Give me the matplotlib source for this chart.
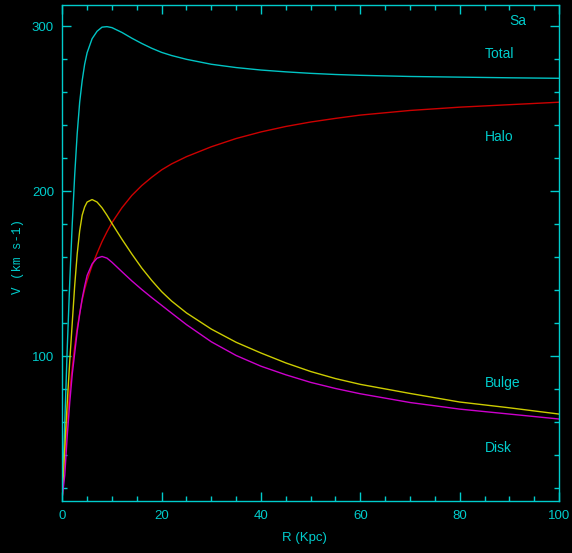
import matplotlib
matplotlib.use("Agg")
import matplotlib.pyplot as plt
from matplotlib.ticker import MultipleLocator

# Radius (Kpc)
R = [0, 0.5, 1, 1.5, 2, 2.5, 3, 3.5, 4, 4.5, 5, 6, 7, 8, 9, 10, 12, 14, 16, 18, 20, 22,
     25, 30, 35, 40, 45, 50, 55, 60, 70, 80, 90, 100]
# Velocities (km/s)
total = [15, 60, 105, 145, 180, 210, 235, 254, 267, 277, 284, 292.5, 297, 299.5, 299.8, 299.2,
         296.3, 292.8, 289.6, 286.7, 284.2, 282.3, 280, 277, 275, 273.5, 272.4, 271.5, 270.8,
         270.3, 269.6, 269.2, 268.8, 268.5]
halo = [15, 40, 62, 79, 93, 106, 117, 126, 134, 140.5, 146, 155, 162.5, 169.5, 175.5, 181,
        190, 197.5, 203.5, 208.5, 213, 216.6, 221, 227, 232, 236, 239.3, 242, 244.2, 246.2,
        249, 251, 252.5, 254]
bulge = [15, 45, 72, 97, 120, 143, 162, 176, 185.5, 190.5, 193.5, 195, 193.5, 190, 185.5, 180.5,
         171, 162, 153.5, 146, 139.2, 133.5, 126.3, 116.5, 108.5, 102, 96, 90.8, 86.5, 83,
         77.5, 72.3, 68.8, 65]
disk = [15, 28, 52, 72, 89, 102, 115, 125.5, 135, 142.5, 149, 156, 159.5, 160.5, 159.5, 157,
        151.3, 145.7, 140.5, 135.6, 130.9, 126.2, 119.2, 108.8, 100.5, 94, 88.8, 84.2, 80.5, 77.3,
        72, 68, 65, 62]

labels = ["Sa", "Total", "Halo", "Bulge", "Disk"]
label_x = [90, 85, 85, 85, 85]
label_y = [303.2, 283.2, 232.9, 83.8, 44.4]

CYAN = "#00cccc"
fig = plt.figure(figsize=(5.72, 5.53), dpi=100, facecolor="black")
ax = fig.add_axes([0.1089, 0.0946, 0.9773 - 0.1089, 0.9915 - 0.0946], facecolor="black")

ax.plot(R, total, color="#00c4c4", lw=1.0)
ax.plot(R, halo, color="#cc0000", lw=1.0)
ax.plot(R, bulge, color="#cccc00", lw=1.0)
ax.plot(R, disk, color="#cc00cc", lw=1.0)

ax.set_xlim(0, 100)
ax.set_ylim(12.5, 313.1)

for s in ax.spines.values():
    s.set_color(CYAN)
    s.set_linewidth(1.0)

ax.xaxis.set_major_locator(MultipleLocator(20))
ax.xaxis.set_minor_locator(MultipleLocator(5))
ax.yaxis.set_major_locator(MultipleLocator(100))
ax.yaxis.set_minor_locator(MultipleLocator(20))
ax.tick_params(which="both", direction="in", top=True, right=True, colors=CYAN, width=1.0)
ax.tick_params(which="major", length=6.5, labelsize=9.5)
ax.tick_params(which="minor", length=3.6)
ax.tick_params(axis="x", which="major", pad=7)
ax.tick_params(axis="y", which="major", pad=6)
for lab in ax.get_xticklabels() + ax.get_yticklabels():
    lab.set_fontfamily("Liberation Sans")

for t, x, y in zip(labels, label_x, label_y):
    ax.text(x, y, t, color=CYAN, fontsize=10, family="Liberation Sans",
            ha="left", va="center")

fig.text(304 / 572, 1 - 538 / 553, "R (Kpc)", color=CYAN, fontsize=9.5,
         family="Liberation Sans", ha="center", va="center")
fig.text(18 / 572, 1 - 257 / 553, "V (km s-1)", color=CYAN, fontsize=9,
         family="Liberation Mono", ha="center", va="center", rotation=90)

fig.savefig("out.png", dpi=100, facecolor="black")
